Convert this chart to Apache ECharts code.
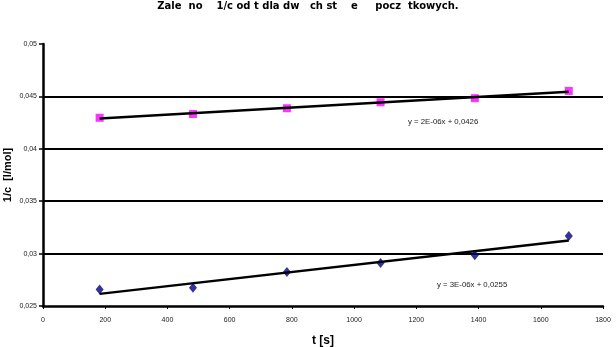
<!DOCTYPE html>
<html>
<head>
<meta charset="utf-8">
<script src="https://cdn.jsdelivr.net/npm/echarts@6/dist/echarts.min.js"></script>
<style>
  html, body { margin: 0; padding: 0; background: #fff; }
  #chart { width: 616px; height: 347px; }
</style>
</head>
<body>
<div id="chart"></div>
<script>
// Measurement times [s]
const times = [182, 482, 784, 1085, 1388, 1690];
// 1/c [l/mol] for the higher initial concentration series (upper)
const invConcA = [0.04296, 0.04332, 0.04387, 0.04444, 0.04483, 0.04552];
// 1/c [l/mol] for the lower series
const invConcB = [0.02658, 0.02675, 0.02824, 0.02910, 0.02984, 0.03168];

const titleText = 'Zale  no    1/c od t dla dw   ch st    e     pocz  tkowych.';
const xName = 't [s]';
const yName = '1/c  [l/mol]';

// Least-squares linear fit
function linFit(xs, ys) {
  const n = xs.length;
  const mx = xs.reduce((a, b) => a + b, 0) / n;
  const my = ys.reduce((a, b) => a + b, 0) / n;
  let sxy = 0, sxx = 0;
  for (let i = 0; i < n; i++) {
    sxy += (xs[i] - mx) * (ys[i] - my);
    sxx += (xs[i] - mx) * (xs[i] - mx);
  }
  const slope = sxy / sxx;
  return { slope, intercept: my - slope * mx };
}

function comma(s) { return String(s).replace('.', ','); }

function eqText(fit) {
  const m = fit.slope.toExponential(0).split('e');
  const exp = parseInt(m[1], 10);
  const expStr = (exp < 0 ? '-' : '+') + String(Math.abs(exp)).padStart(2, '0');
  return 'y = ' + m[0] + 'E' + expStr + 'x + ' + comma(fit.intercept.toFixed(4));
}

function trendData(xs, fit) {
  const x0 = xs[0], x1 = xs[xs.length - 1];
  return [[x0, fit.intercept + fit.slope * x0], [x1, fit.intercept + fit.slope * x1]];
}

const fitA = linFit(times, invConcA);
const fitB = linFit(times, invConcB);

const chart = echarts.init(document.getElementById('chart'), null, { renderer: 'canvas' });

const tickFont = { fontFamily: 'Liberation Sans', fontSize: 7, color: '#222' };

chart.setOption({
  animation: false,
  backgroundColor: '#ffffff',
  title: {
    text: titleText,
    left: 'center',
    top: 1,
    padding: 0,
    textStyle: { fontFamily: 'DejaVu Sans', fontWeight: 'bold', fontSize: 10, color: '#000' }
  },
  grid: { left: 43, right: 13, top: 44, bottom: 41, containLabel: false, outerBoundsMode: 'none' },
  xAxis: {
    type: 'value',
    min: 0, max: 1800, interval: 200,
    name: xName,
    nameLocation: 'middle',
    nameGap: 29,
    nameMoveOverlap: false,
    nameTextStyle: { fontFamily: 'Liberation Sans', fontWeight: 'bold', fontSize: 12, color: '#000' },
    axisLine: { show: true, onZero: false, lineStyle: { color: '#000', width: 2.5 } },
    axisTick: { show: true, inside: false, length: 3, lineStyle: { color: '#000', width: 1 } },
    axisLabel: Object.assign({ margin: 11, formatter: v => String(v) }, tickFont),
    splitLine: { show: false }
  },
  yAxis: {
    type: 'value',
    min: 0.025, max: 0.05, interval: 0.005,
    name: yName,
    nameLocation: 'middle',
    nameGap: 30,
    nameRotate: 90,
    nameMoveOverlap: false,
    nameTextStyle: { fontFamily: 'Liberation Sans', fontWeight: 'bold', fontSize: 11, color: '#000' },
    axisLine: { show: true, lineStyle: { color: '#000', width: 2.5 } },
    axisTick: { show: true, inside: false, length: 4, lineStyle: { color: '#000', width: 1.5 } },
    axisLabel: Object.assign({
      margin: 6,
      formatter: v => comma(parseFloat(v.toFixed(3)))
    }, tickFont),
    splitLine: { show: true, showMinLine: false, showMaxLine: false, lineStyle: { color: '#000', width: 2 } }
  },
  series: [
    {
      type: 'scatter',
      data: times.map((t, i) => [t, invConcA[i]]),
      symbol: 'rect',
      symbolSize: 8,
      itemStyle: { color: '#ff00ff' },
      z: 3
    },
    {
      type: 'scatter',
      data: times.map((t, i) => [t, invConcB[i]]),
      symbol: 'diamond',
      symbolSize: [8, 10],
      itemStyle: { color: '#000080' },
      z: 3
    },
    {
      type: 'line',
      data: trendData(times, fitA),
      symbol: 'none',
      lineStyle: { color: '#000', width: 2.5 },
      z: 4
    },
    {
      type: 'line',
      data: trendData(times, fitB),
      symbol: 'none',
      lineStyle: { color: '#000', width: 2.5 },
      z: 4
    }
  ],
  graphic: [
    {
      type: 'text', left: 408, top: 118,
      style: { text: eqText(fitA), fontFamily: 'Liberation Sans', fontSize: 7.8, fill: '#222' }
    },
    {
      type: 'text', left: 437, top: 281,
      style: { text: eqText(fitB), fontFamily: 'Liberation Sans', fontSize: 7.8, fill: '#222' }
    }
  ]
});
</script>
</body>
</html>
